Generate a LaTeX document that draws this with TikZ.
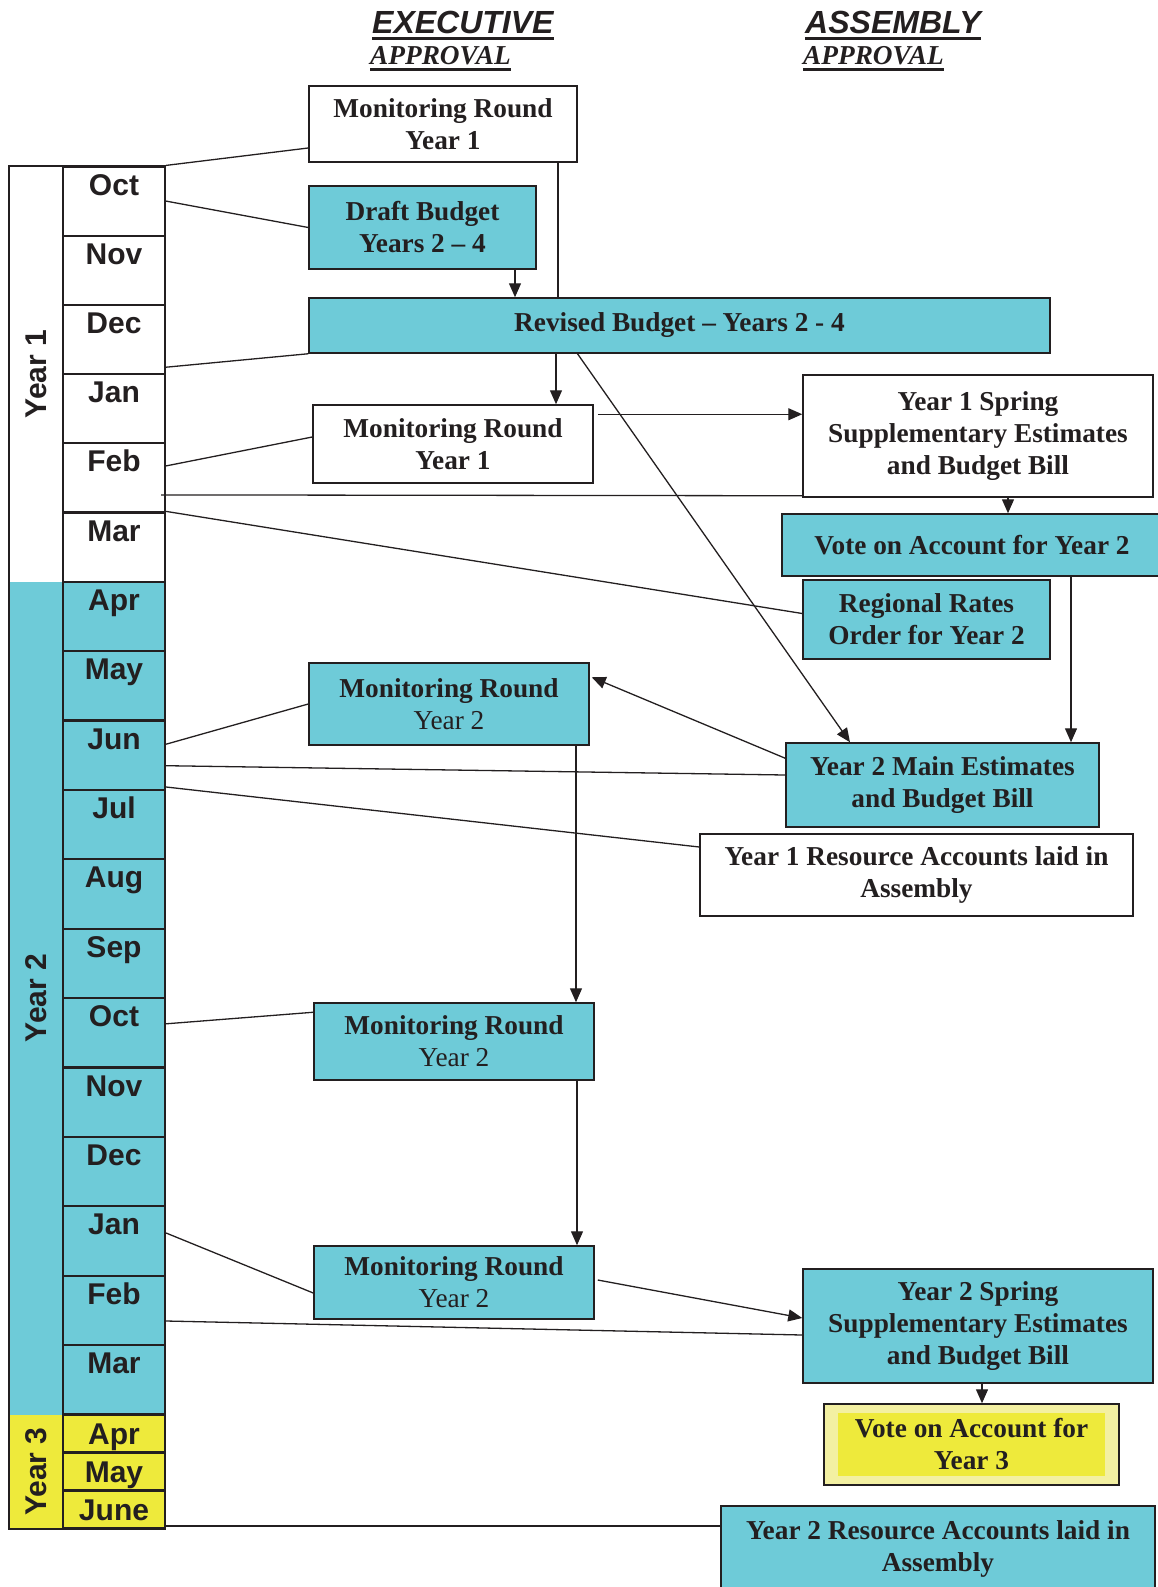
\documentclass[tikz,border=0pt]{standalone}
\usepackage{fontspec}
\setmainfont{Liberation Serif}
\setsansfont{Liberation Sans}
\usetikzlibrary{arrows.meta}

\definecolor{budgetcyan}{HTML}{6ECBD8}
\definecolor{yearyellow}{HTML}{EEEA3B}
\definecolor{paleyellow}{HTML}{F3F0A2}
\definecolor{ink}{HTML}{231F20}

\newcommand{\boxfont}{\fontsize{27.3}{32}\selectfont\bfseries}
\newcommand{\monthfont}{\sffamily\bfseries\fontsize{30}{36}\selectfont}
\newcommand{\headsans}{\sffamily\bfseries\itshape\fontsize{32}{38}\selectfont}
\newcommand{\headserif}{\rmfamily\bfseries\itshape\fontsize{27.3}{32}\selectfont}
\newcommand{\ulhead}[1]{\setbox0=\hbox{#1}\rlap{\copy0}\rule[-6pt]{\wd0}{3pt}}

\begin{document}
\begin{tikzpicture}[x=1pt,y=-1pt,
  box/.style={draw=ink,line width=1.5pt,inner sep=0pt,align=center,font=\boxfont,text=ink},
  execbox/.style={box,fill=white},
  cyanbox/.style={box,fill=budgetcyan},
  month/.style={draw=ink,line width=2.2pt,minimum width=102pt,inner sep=0pt,font=\monthfont,text=ink},
  yearcell/.style={minimum width=54pt,inner sep=0pt},
  yeartext/.style={rotate=90,inner sep=0pt,font=\monthfont,text=ink},
  head/.style={anchor=base west,inner sep=0pt,text=ink},
  link/.style={draw=ink,line width=1.3pt},
  arr/.style={link,-{Triangle[length=14pt,width=12pt]}}]
  \useasboundingbox (0,0) rectangle (1158,1587);

  \node[head,font=\headsans] (exec) at (372,34) {\ulhead{EXECUTIVE}};
  \node[head,font=\headserif] (execok) at (370,65) {\ulhead{APPROVAL}};
  \node[head,font=\headsans] (assem) at (805,34) {\ulhead{ASSEMBLY}};
  \node[head,font=\headserif] (assemok) at (803,65) {\ulhead{APPROVAL}};

  \node[yearcell,fill=white,minimum height=415.2pt] (y1) at (36,374.1) {};
  \node[yearcell,fill=budgetcyan,minimum height=832.8pt] (y2) at (36,998.1) {};
  \node[yearcell,fill=yearyellow,minimum height=114pt] (y3) at (36,1471.5) {};
  \node[yeartext] (y1t) at (y1) {Year 1};
  \node[yeartext] (y2t) at (y2) {Year 2};
  \node[yeartext] (y3t) at (y3) {Year 3};

  \foreach \mo [count=\i] in {Oct,Nov,Dec,Jan,Feb,Mar}
    \node[month,fill=white,text height=28.5pt,text depth=40.7pt] (y1-\mo) at (114,{166.5+69.2*(\i-0.5)}) {\mo};
  \foreach \mo [count=\i] in {Apr,May,Jun,Jul,Aug,Sep,Oct,Nov,Dec,Jan,Feb,Mar}
    \node[month,fill=budgetcyan,text height=28.5pt,text depth=40.9pt] (y2-\mo) at (114,{581.7+69.4*(\i-0.5)}) {\mo};
  \foreach \mo [count=\i] in {Apr,May,June}
    \node[month,fill=yearyellow,text height=29.5pt,text depth=8.5pt] (y3-\mo) at (114,{1414.5+38*(\i-0.5)}) {\mo};
  \draw[ink,line width=2.2pt] (y1.north west) rectangle (y3.south east);

  \node[execbox,minimum width=268pt,minimum height=76pt] (mr1) at (443,124) {Monitoring Round\\Year 1};
  \node[cyanbox,minimum width=227pt,minimum height=83pt] (draft) at (422.5,227.5) {Draft Budget\\Years 2 -- 4};
  \node[cyanbox,minimum width=741pt,minimum height=55pt] (revised) at (679.5,325.5) {Revised Budget -- Years 2 - 4};
  \node[execbox,minimum width=280pt,minimum height=78pt] (mr2) at (453,444) {Monitoring Round\\Year 1};
  \node[execbox,minimum width=350pt,minimum height=122pt] (spring1) at (978,436) {Year 1 Spring\\Supplementary Estimates\\and Budget Bill};
  \node[cyanbox,minimum width=380pt,minimum height=62pt] (voteY2) at (972,545) {Vote on Account for Year 2};
  \node[cyanbox,minimum width=247pt,minimum height=79pt] (rates) at (926.5,619.5) {Regional Rates\\Order for Year 2};
  \node[cyanbox,minimum width=280pt,minimum height=82pt] (mr3) at (449,704) {Monitoring Round\\{\mdseries Year 2}};
  \node[cyanbox,minimum width=313pt,minimum height=84pt] (mainest) at (942.5,785) {Year 2 Main Estimates\\and Budget Bill};
  \node[execbox,minimum width=433pt,minimum height=82pt] (accts1) at (916.5,875) {Year 1 Resource Accounts laid in\\Assembly};
  \node[cyanbox,minimum width=280pt,minimum height=77pt] (mr4) at (454,1041.5) {Monitoring Round\\{\mdseries Year 2}};
  \node[cyanbox,minimum width=280pt,minimum height=73pt] (mr5) at (454,1282.5) {Monitoring Round\\{\mdseries Year 2}};
  \node[cyanbox,minimum width=350pt,minimum height=114pt] (spring2) at (978,1326) {Year 2 Spring\\Supplementary Estimates\\and Budget Bill};
  \node[box,fill=paleyellow,minimum width=295pt,minimum height=81pt] (vote3) at (971.5,1444.5) {};
  \node[fill=yearyellow,minimum width=267pt,minimum height=63pt,inner sep=0pt,align=center,font=\boxfont,text=ink] (vote3in) at (vote3) {Vote on Account for\\Year 3};
  \node[cyanbox,minimum width=434pt,minimum height=86pt] (accts2) at (938,1549) {Year 2 Resource Accounts laid in\\Assembly};

  \draw[link] (y1-Oct.north east) -- ([yshift=-24pt]mr1.west);
  \draw[link] (y1-Oct.east) -- (draft.west);
  \draw[link] ([yshift=8pt]y1-Dec.south east) -- (revised.south west);
  \draw[link] ([yshift=12pt]y1-Feb.east) -- ([yshift=7pt]mr2.west);
  \draw[link] ([xshift=-5pt,yshift=-17pt]y1-Feb.east) -- ([yshift=2pt]spring1.south west);
  \draw[link] (y1-Mar.north east) -- ([yshift=6pt]rates.west);
  \draw[link] ([yshift=11pt]y2-Jun.east) -- (mr3.west);
  \draw[link] ([yshift=-10.5pt]y2-Jun.east) -- ([yshift=10pt]mainest.west);
  \draw[link] ([yshift=4pt]y2-Jun.south east) -- ([yshift=28pt]accts1.west);
  \draw[link] ([yshift=9pt]y2-Oct.east) -- ([yshift=-10pt]mr4.north west);
  \draw[link] ([yshift=8pt]y2-Jan.east) -- ([yshift=-10.5pt]mr5.west);
  \draw[link] ([yshift=-10.6pt]y2-Feb.east) -- ([yshift=-9pt]spring2.west);
  \draw[link] ([yshift=-16.5pt]y3-June.east) -- ([yshift=23pt]accts2.west);

  \coordinate (xa) at (558,0);
  \coordinate (xb) at (515,0);
  \coordinate (xc) at (556,0);
  \coordinate (xd) at (1008,0);
  \coordinate (xe) at (1071,0);
  \coordinate (xf) at (576,0);
  \coordinate (xg) at (577,0);
  \coordinate (xh) at (982,0);
  \draw[link] (mr1.south -| xa) -- (revised.north -| xa);
  \draw[arr] (draft.south -| xb) -- (revised.north -| xb);
  \draw[arr] (revised.south -| xc) -- (mr2.north -| xc);
  \draw[arr] ([xshift=-102pt]revised.south) -- ([xshift=-92.5pt]mainest.north);
  \draw[arr] ([xshift=4pt,yshift=-10pt]mr2.north east) -- ([yshift=-40pt]spring1.north west);
  \draw[arr] (spring1.south -| xd) -- (voteY2.north -| xd);
  \draw[arr] (voteY2.south -| xe) -- (mainest.north -| xe);
  \draw[arr] ([yshift=-16pt]mainest.north west) -- ([xshift=2pt,yshift=-15pt]mr3.north east);
  \draw[arr] (mr3.south -| xf) -- (mr4.north -| xf);
  \draw[arr] (mr4.south -| xg) -- (mr5.north -| xg);
  \draw[arr] ([xshift=3pt,yshift=2.5pt]mr5.east) -- ([yshift=8pt]spring2.west);
  \draw[arr] (spring2.south -| xh) -- (vote3.north -| xh);
\end{tikzpicture}
\end{document}
